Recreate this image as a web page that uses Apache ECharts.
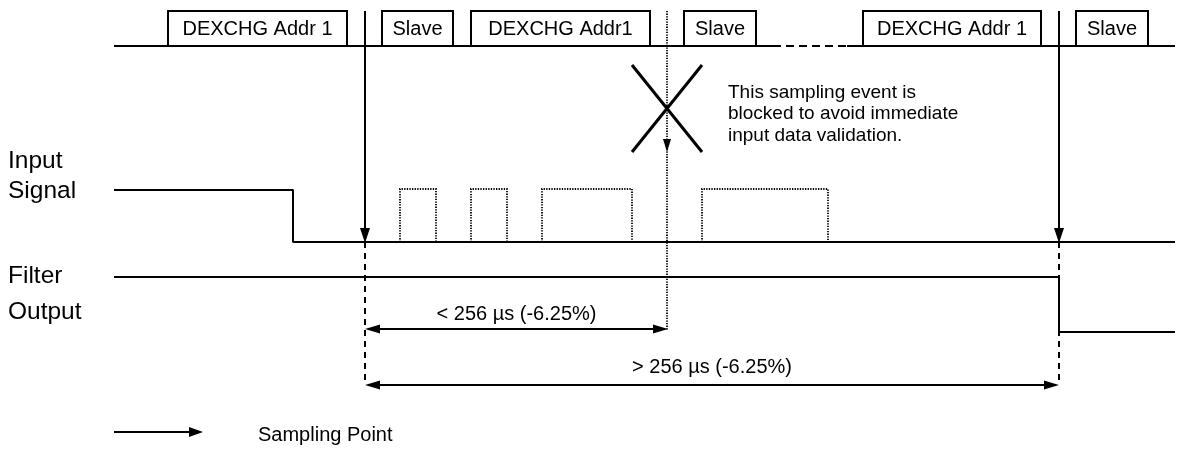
<!DOCTYPE html>
<html><head><meta charset="utf-8">
<script src="https://cdn.jsdelivr.net/npm/echarts@6/dist/echarts.min.js"></script>
<style>html,body{margin:0;padding:0;background:#fff}#c{width:1180px;height:451px}</style>
</head><body><div id="c"></div>
<script>
// ---------------- data (x = time units along the diagram) ----------------
const busBoxLabels = ['DEXCHG Addr 1', 'Slave', 'DEXCHG Addr1', 'Slave', 'DEXCHG Addr 1', 'Slave'];
const busBoxStart  = [168, 382, 471, 684, 863, 1076];
const busBoxEnd    = [347, 453, 650, 756, 1041, 1148];
const busStart = 114, busEnd = 1175;
const busGapStart = 773, busGapEnd = 847;           // elided (dashed) part of the bus
const samplingTimes = [365, 1059];
const blockedSampleTime = 667;
const inputSignalTimes  = [114, 293, 293, 1175];
const inputSignalStates = [1, 1, 0, 0];
const noisePulseStart = [400, 471, 542, 702];
const noisePulseEnd   = [436, 507, 632, 828];
const filterOutputTimes  = [114, 1059, 1059, 1175];
const filterOutputStates = [1, 1, 0, 0];
const intervalLabels = ['< 256 µs (-6.25%)', '> 256 µs (-6.25%)'];
const intervalStart  = [365, 365];
const intervalEnd    = [668, 1059];
const signalNames = [['Input', 'Signal'], ['Filter', 'Output']];
const noteLines = ['This sampling event is', 'blocked to avoid immediate', 'input data validation.'];
const legendLabel = 'Sampling Point';

// ---------------- layout (vertical rows, sizes, styles) ----------------
const L = {
  busTop: 11, busBase: 46,
  inHi: 190, inLo: 242,
  outHi: 277, outLo: 332,
  pulseTop: 189,
  ivY: [329, 385], ivTextY: [314, 367],
  dashEnd: 385,
  blockedTip: 152, blockedEnd: 330,
  crossHalf: 35, crossTop: 65, crossBot: 152,
  noteX: 728, noteY: [92.5, 114, 135.5],
  labelX: 8, labelY: [[161, 191], [276.5, 312]],
  legX0: 114, legX1: 203, legY: 432, legTextX: 258, legTextY: 435
};
const FONT = "'Liberation Sans', Arial, Helvetica, sans-serif";
const BLACK = '#000';
const DOT = [1.3, 1.3];

function stroke(w, dash) { return { stroke: BLACK, lineWidth: w, lineDash: dash || null, fill: null }; }
function seg(p, q, w, dash) {
  return { type: 'line', shape: { x1: p[0], y1: p[1], x2: q[0], y2: q[1] }, style: stroke(w, dash) };
}
function head(tip, dir, len, half) {
  const x = tip[0], y = tip[1];
  let pts;
  if (dir === 'down') pts = [[x, y], [x - half, y - len], [x + half, y - len]];
  else if (dir === 'left') pts = [[x, y], [x + len, y - half], [x + len, y + half]];
  else pts = [[x, y], [x - len, y - half], [x - len, y + half]];
  return { type: 'polygon', shape: { points: pts }, style: { fill: BLACK } };
}
function txt(x, y, s, size, align, extra) {
  return Object.assign({ type: 'text', x: x, y: y,
    style: { text: s, fill: BLACK, font: size + 'px ' + FONT, align: align || 'left', verticalAlign: 'middle' } }, extra || {});
}

const busSegs = [[busStart, busGapStart, 0], [busGapStart, busGapEnd, 1], [busGapEnd, busEnd, 0]];
const boxes = busBoxLabels.map((l, i) => [busBoxStart[i], busBoxEnd[i], i]);
const pulses = noisePulseStart.map((s, i) => [s, noisePulseEnd[i]]);
const intervals = intervalLabels.map((l, i) => [intervalStart[i], intervalEnd[i], i]);
const inLevel = s => s ? L.inHi : L.inLo;
const outLevel = s => s ? L.outHi : L.outLo;

const option = {
  animation: false,
  backgroundColor: '#fff',
  grid: { left: 0, right: 0, top: 0, bottom: 0 },
  xAxis: { type: 'value', min: 0, max: 1180, show: false },
  yAxis: { type: 'value', min: 0, max: 451, inverse: true, show: false },
  series: [
    { // bus line
      type: 'custom', data: busSegs, silent: true,
      renderItem: (p, api) => seg(api.coord([api.value(0), L.busBase]), api.coord([api.value(1), L.busBase]), 2,
        api.value(2) ? [8, 5] : null)
    },
    { // bus boxes
      type: 'custom', data: boxes, silent: true,
      renderItem: (p, api) => {
        const a = api.coord([api.value(0), L.busTop]), b = api.coord([api.value(1), L.busBase]);
        return { type: 'group', children: [
          { type: 'rect', shape: { x: a[0], y: a[1], width: b[0] - a[0], height: b[1] - a[1] }, style: stroke(2) },
          txt((a[0] + b[0]) / 2, (a[1] + b[1]) / 2 + 0.5, busBoxLabels[api.value(2)], 20, 'center')
        ] };
      }
    },
    { // sampling points
      type: 'custom', data: samplingTimes.map(t => [t]), silent: true,
      renderItem: (p, api) => {
        const t = api.value(0);
        const top = api.coord([t, L.busTop]), tip = api.coord([t, L.inLo]), end = api.coord([t, L.dashEnd]);
        return { type: 'group', children: [
          seg(top, [tip[0], tip[1] - 6], 2),
          head([tip[0], tip[1] + 1], 'down', 15, 5),
          seg(tip, end, 2, [6, 5])
        ] };
      }
    },
    { // blocked sampling event
      type: 'custom', data: [[blockedSampleTime]], silent: true,
      renderItem: (p, api) => {
        const t = api.value(0);
        const top = api.coord([t, L.busTop]), tip = api.coord([t, L.blockedTip]), end = api.coord([t, L.blockedEnd]);
        const c1 = api.coord([t - L.crossHalf, L.crossTop]), c2 = api.coord([t + L.crossHalf, L.crossBot]);
        const c3 = api.coord([t + L.crossHalf, L.crossTop]), c4 = api.coord([t - L.crossHalf, L.crossBot]);
        return { type: 'group', children: [
          seg(top, end, 1.8, DOT),
          head(tip, 'down', 13, 4),
          seg(c1, c2, 3),
          seg(c3, c4, 3)
        ] };
      }
    },
    { // input signal
      type: 'line', showSymbol: false, silent: true,
      data: inputSignalTimes.map((t, i) => [t, inLevel(inputSignalStates[i])]),
      lineStyle: { color: BLACK, width: 2 }
    },
    { // filter output
      type: 'line', showSymbol: false, silent: true,
      data: filterOutputTimes.map((t, i) => [t, outLevel(filterOutputStates[i])]),
      lineStyle: { color: BLACK, width: 2 }
    },
    { // noise pulses (dotted)
      type: 'custom', data: pulses, silent: true,
      renderItem: (p, api) => {
        const a = api.coord([api.value(0), L.inLo]), b = api.coord([api.value(1), L.pulseTop]);
        return { type: 'polyline', shape: { points: [[a[0], a[1]], [a[0], b[1]], [b[0], b[1]], [b[0], a[1]]] },
          style: stroke(1.8, DOT) };
      }
    },
    { // interval measurements
      type: 'custom', data: intervals, silent: true,
      renderItem: (p, api) => {
        const i = api.value(2);
        const a = api.coord([api.value(0), L.ivY[i]]), b = api.coord([api.value(1), L.ivY[i]]);
        return { type: 'group', children: [
          seg([a[0] + 10, a[1]], [b[0] - 10, b[1]], 2),
          head(a, 'left', 15, 4.5),
          head(b, 'right', 15, 4.5),
          txt((a[0] + b[0]) / 2, L.ivTextY[i], intervalLabels[i], 20, 'center')
        ] };
      }
    },
    { // row labels
      type: 'custom', data: signalNames.map((n, i) => [0, i]), silent: true,
      renderItem: (p, api) => {
        const i = api.value(1);
        return { type: 'group', children: signalNames[i].map((s, k) => {
          const pt = api.coord([L.labelX, L.labelY[i][k]]);
          return txt(pt[0], pt[1], s, 24.5, 'left');
        }) };
      }
    },
    { // note text
      type: 'custom', data: noteLines.map((s, i) => [i]), silent: true,
      renderItem: (p, api) => {
        const i = api.value(0);
        const pt = api.coord([L.noteX, L.noteY[i]]);
        return txt(pt[0], pt[1], noteLines[i], 19, 'left');
      }
    },
    { // legend
      type: 'custom', data: [[0]], silent: true,
      renderItem: (p, api) => {
        const a = api.coord([L.legX0, L.legY]), b = api.coord([L.legX1, L.legY]);
        const t = api.coord([L.legTextX, L.legTextY]);
        return { type: 'group', children: [
          seg(a, [b[0] - 8, b[1]], 2),
          head(b, 'right', 14, 5),
          txt(t[0], t[1], legendLabel, 20, 'left')
        ] };
      }
    }
  ]
};
const chart = echarts.init(document.getElementById('c'), null, { renderer: 'canvas' });
chart.setOption(option);
</script>
</body></html>
